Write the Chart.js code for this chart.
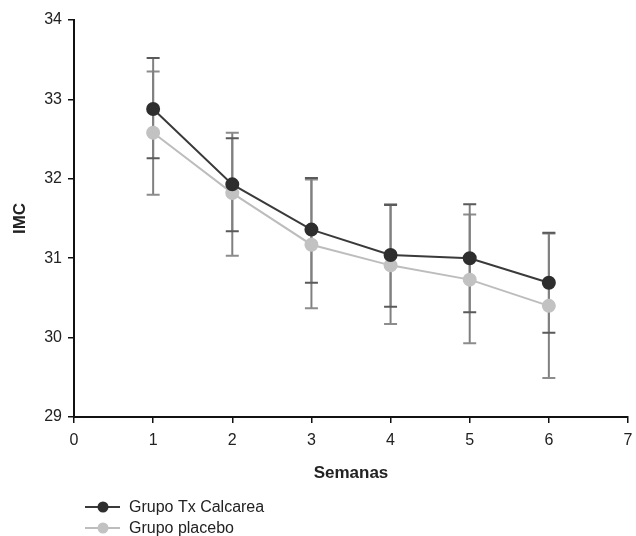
<!DOCTYPE html>
<html>
<head>
<meta charset="utf-8">
<script src="https://cdn.jsdelivr.net/npm/chart.js@4/dist/chart.umd.min.js"></script>
<style>
  html, body { margin: 0; padding: 0; background: #fff; }
  #wrap { width: 636px; height: 536px; }
</style>
</head>
<body>
<div id="wrap"><canvas id="chart"></canvas></div>
<script>
const weeks = [1, 2, 3, 4, 5, 6];
const calcarea = [32.88, 31.93, 31.36, 31.04, 31.00, 30.69];
const calcareaHigh = [33.52, 32.51, 32.01, 31.67, 31.68, 31.32];
const calcareaLow = [32.26, 31.34, 30.69, 30.39, 30.32, 30.06];
const placebo = [32.58, 31.82, 31.17, 30.91, 30.73, 30.40];
const placeboHigh = [33.35, 32.58, 31.99, 31.68, 31.55, 31.31];
const placeboLow = [31.80, 31.03, 30.37, 30.17, 29.93, 29.49];
const seriesNames = ['Grupo Tx Calcarea', 'Grupo placebo'];

const FONT = '"Liberation Sans", Arial, sans-serif';
const DARK = '#2e2e2e';
const LIGHT = '#bdbdbd';

const toPoints = (vals) => weeks.map((w, i) => ({ x: w, y: vals[i] }));

// error bars drawn behind the lines, from the same scales
const errorBars = {
  id: 'errorBars',
  beforeDatasetsDraw(chart) {
    const { ctx, scales: { x, y } } = chart;
    const sets = [
      { hi: placeboHigh, lo: placeboLow, cap: '#8c8c8c' },
      { hi: calcareaHigh, lo: calcareaLow, cap: '#5a5a5a' },
    ];
    ctx.save();
    ctx.lineWidth = 2;
    sets.forEach((s) => {
      weeks.forEach((w, i) => {
        const px = x.getPixelForValue(w);
        const top = y.getPixelForValue(s.hi[i]);
        const bot = y.getPixelForValue(s.lo[i]);
        ctx.strokeStyle = '#808080';
        ctx.beginPath();
        ctx.moveTo(px, top);
        ctx.lineTo(px, bot);
        ctx.stroke();
        ctx.strokeStyle = s.cap;
        ctx.beginPath();
        ctx.moveTo(px - 6.5, top);
        ctx.lineTo(px + 6.5, top);
        ctx.moveTo(px - 6.5, bot);
        ctx.lineTo(px + 6.5, bot);
        ctx.stroke();
      });
    });
    ctx.restore();
  },
};

// stacked legend under the axis title
const stackedLegend = {
  id: 'stackedLegend',
  afterDraw(chart) {
    const ctx = chart.ctx;
    const rows = [
      { label: seriesNames[0], line: '#3a3a3a', dot: DARK, y: 507 },
      { label: seriesNames[1], line: LIGHT, dot: '#c2c2c2', y: 528 },
    ];
    ctx.save();
    rows.forEach((r) => {
      ctx.strokeStyle = r.line;
      ctx.lineWidth = 2;
      ctx.beginPath();
      ctx.moveTo(85, r.y);
      ctx.lineTo(120, r.y);
      ctx.stroke();
      ctx.fillStyle = r.dot;
      ctx.beginPath();
      ctx.arc(103, r.y, 5.5, 0, Math.PI * 2);
      ctx.fill();
      ctx.fillStyle = '#222';
      ctx.font = '16px ' + FONT;
      ctx.textBaseline = 'middle';
      ctx.fillText(r.label, 129, r.y + 1);
    });
    ctx.restore();
  },
};

new Chart(document.getElementById('chart'), {
  type: 'line',
  data: {
    datasets: [
      {
        label: seriesNames[0],
        data: toPoints(calcarea),
        borderColor: '#3a3a3a',
        backgroundColor: DARK,
        pointBackgroundColor: DARK,
        pointBorderColor: DARK,
        borderWidth: 2,
        pointRadius: 6,
        tension: 0,
      },
      {
        label: seriesNames[1],
        data: toPoints(placebo),
        borderColor: LIGHT,
        backgroundColor: '#c2c2c2',
        pointBackgroundColor: '#c2c2c2',
        pointBorderColor: '#c2c2c2',
        borderWidth: 2,
        pointRadius: 6,
        tension: 0,
      },
    ],
  },
  options: {
    animation: false,
    responsive: true,
    maintainAspectRatio: false,
    layout: { padding: { top: 20, right: 1, bottom: 0, left: 0 } },
    plugins: {
      legend: { display: false },
      tooltip: { enabled: false },
    },
    scales: {
      x: {
        type: 'linear',
        min: 0,
        max: 7,
        afterFit: (scale) => { scale.height = 119; scale.paddingRight = 0; },
        ticks: { stepSize: 1, color: '#222', padding: 8, font: { family: FONT, size: 16 } },
        grid: { display: true, drawOnChartArea: false, drawTicks: true, tickLength: 6, color: '#111', lineWidth: 1.5 },
        border: { display: true, color: '#111', width: 2 },
        title: {
          display: true,
          text: 'Semanas',
          color: '#222',
          font: { family: FONT, size: 17, weight: 'bold' },
          padding: { top: 0, bottom: 52 },
        },
      },
      y: {
        min: 29,
        max: 34,
        afterFit: (scale) => { scale.width = 74; },
        ticks: { stepSize: 1, color: '#222', padding: 6, font: { family: FONT, size: 16 } },
        grid: { display: true, drawOnChartArea: false, drawTicks: true, tickLength: 6, color: '#111', lineWidth: 1.5 },
        border: { display: true, color: '#111', width: 2 },
        title: {
          display: true,
          text: 'IMC',
          color: '#222',
          font: { family: FONT, size: 17, weight: 'bold' },
          padding: { top: 10, bottom: 0 },
        },
      },
    },
  },
  plugins: [errorBars, stackedLegend],
});
</script>
</body>
</html>
